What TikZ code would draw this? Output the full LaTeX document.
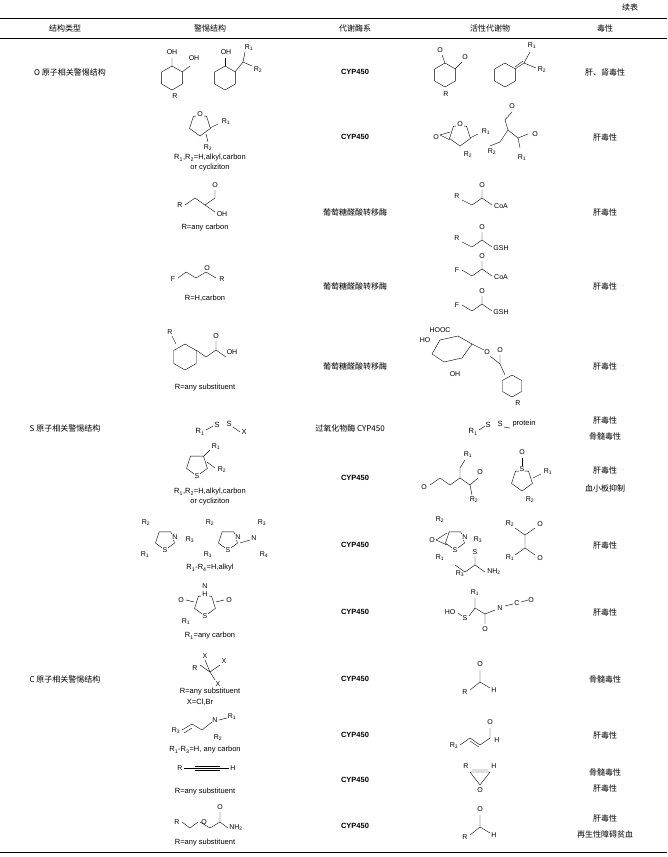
\documentclass[tikz,border=0pt]{standalone}
\usepackage{fontspec}
\setmainfont{Liberation Sans}
\newfontfamily\cjk{Noto Sans CJK SC}
\newcommand\hexg[3]{\draw[shift={(#1,#2)}] (30:#3)--(90:#3)--(150:#3)--(210:#3)--(270:#3)--(330:#3)--cycle;}
\newcommand\pentg[3]{\draw[shift={(#1,#2)}] (90:#3)--(162:#3)--(234:#3)--(306:#3)--(18:#3)--cycle;}
\newcommand\Rs[1]{R\textsubscript{#1}}
\begin{document}
\begin{tikzpicture}[x=1pt,y=-1pt,font=\fontsize{7.5}{9}\selectfont,
  ch/.style={font=\fontsize{7}{8}\selectfont,inner sep=1pt},
  cj/.style={font=\cjk\fontsize{8}{9}\selectfont},
  en/.style={font=\fontsize{7.5}{9}\selectfont\bfseries}]
\useasboundingbox (0,0) rectangle (667,857);
\node[cj] at (630,7) {续表};
\draw[line width=0.8pt] (0,18)--(667,18);
\draw[line width=0.5pt] (0,38)--(667,38);
\draw[line width=0.8pt] (0,852)--(667,852);
\foreach \xx/\lab in {65/结构类型,210/警惕结构,355/代谢酶系,490/活性代谢物,605/毒性}\node[cj] at (\xx,28) {\lab};
\node[cj] at (70,72) {O 原子相关警惕结构};
\node[cj] at (65,428) {S 原子相关警惕结构};
\node[cj] at (65,679) {C 原子相关警惕结构};
% enzymes
\foreach \yy in {72,137,478,545,612,679,735,780,826}\node[en] at (355,\yy) {CYP450};
\foreach \yy in {212,286,366}\node[cj] at (355,\yy) {葡萄糖醛酸转移酶};
\node[cj] at (350,428) {过氧化物酶 CYP450};
% toxicity
\node[cj] at (605,72) {肝、肾毒性};
\foreach \yy in {137,212,286,366,420,470,545,612,735,788,818}\node[cj] at (605,\yy) {肝毒性};
\foreach \yy in {436,679,772}\node[cj] at (605,\yy) {骨髓毒性};
\node[cj] at (605,488) {血小板抑制};
\node[cj] at (605,834) {再生性障碍贫血};
% row1
\hexg{172}{78}{12}\hexg{225}{78}{12}
\draw (172,66)--(172,58) (182,72)--(190,66);
\node[ch] at (172,52) {OH};\node[ch] at (194,58) {OH};
\draw (225,66)--(225,58);\node[ch] at (226,52) {OH};
\draw (235,72)--(243,62)--(252,66) (243,62)--(245,52);
\node[ch] at (249,48) {\Rs1};\node[ch] at (258,70) {\Rs2};
\node[ch] at (175,96) {R};
\hexg{445}{75}{12}\draw (445,63)--(442,55) (455,69)--(462,62);
\node[ch] at (440,50) {O};\node[ch] at (465,57) {O};\node[ch] at (446,94) {R};
\hexg{505}{75}{12}\draw (515,69)--(524,63) (515,67)--(523,61) (524,63)--(530,52) (524,63)--(536,68);
\node[ch] at (532,46) {\Rs1};\node[ch] at (542,70) {\Rs2};
% row2
\pentg{200}{125}{11}\node[ch,fill=white] at (200,114) {O};
\draw (210,128)--(218,124);\node[ch] at (226,122) {\Rs1};
\draw (206,134)--(208,142);\node[ch] at (208,148) {\Rs2};
\node at (210,158) {\Rs1,\Rs2=H,alkyl,carbon};\node at (210,168) {or cycliziton};
\pentg{460}{135}{11}\node[ch,fill=white] at (460,124) {O};
\draw (450,132)--(440,135)--(450,140);\node[ch] at (436,137) {O};
\draw (470,138)--(478,134);\node[ch] at (486,132) {\Rs1};\node[ch] at (468,155) {\Rs2};
\draw (512,112)--(505,120)--(508,130)--(500,142)--(490,146) (508,130)--(518,138)--(520,148) (518,138)--(528,134);
\node[ch] at (512,106) {O};\node[ch] at (535,134) {O};\node[ch] at (492,152) {\Rs2};\node[ch] at (522,158) {\Rs1};
% row3
\draw (185,205)--(195,198)--(205,205)--(215,198)--(215,190) (205,205)--(215,212);
\node[ch] at (180,205) {R};\node[ch] at (215,185) {O};\node[ch] at (222,214) {OH};
\node at (205,228) {R=any carbon};
\draw (462,200)--(472,205)--(482,198)--(482,190) (482,198)--(492,205);
\node[ch] at (457,196) {R};\node[ch] at (482,185) {O};\node[ch] at (501,206) {CoA};
\draw (462,242)--(472,247)--(482,240)--(482,232) (482,240)--(492,247);
\node[ch] at (457,238) {R};\node[ch] at (482,227) {O};\node[ch] at (501,248) {GSH};
% row4
\draw (178,278)--(186,272)--(196,278)--(206,272)--(216,278);
\node[ch] at (173,279) {F};\node[ch] at (207,268) {O};\node[ch] at (222,279) {R};
\node at (205,298) {R=H,carbon};
\draw (462,270)--(472,276)--(482,269)--(482,261) (482,269)--(492,276);
\node[ch] at (457,270) {F};\node[ch] at (482,256) {O};\node[ch] at (501,277) {CoA};
\draw (462,305)--(472,311)--(482,304)--(482,296) (482,304)--(492,311);
\node[ch] at (457,305) {F};\node[ch] at (482,291) {O};\node[ch] at (501,312) {GSH};
% row5
\hexg{185}{357}{13}\draw (196,350)--(206,357)--(216,350)--(216,341) (216,350)--(226,357);
\draw (176,344)--(172,336);\node[ch] at (170,332) {R};
\node[ch] at (216,336) {O};\node[ch] at (232,352) {OH};
\node at (205,388) {R=any substituent};
\draw (440,340)--(458,336)--(472,344)--(462,358)--(444,362)--(432,354)--cycle;
\node[ch] at (440,330) {HOOC};\node[ch] at (425,340) {HO};\node[ch] at (455,374) {OH};
\draw (472,344)--(484,350);\node[ch] at (487,352) {O};
\draw (490,356)--(500,364)--(500,355) (500,364)--(505,375);
\node[ch] at (500,350) {O};
\hexg{512}{386}{11}\node[ch] at (518,403) {R};
% row6
\node at (200,432) {\Rs1};\node at (217,425) {S};\node at (229,424) {S};
\draw (206,430)--(213,426) (233,427)--(240,432);\node at (244,432) {X};
\node at (473,432) {\Rs1};\node at (488,425) {S};\node at (500,424) {S};
\draw (479,430)--(485,426) (504,427)--(510,428);\node at (524,424) {protein};
% row7
\pentg{197}{465}{11}\node[ch,fill=white] at (197,476) {S};
\draw (204,456)--(210,450);\node[ch] at (216,447) {\Rs1};
\draw (207,462)--(215,468);\node[ch] at (222,470) {\Rs2};
\node at (210,492) {\Rs1,\Rs2=H,alkyl,carbon};\node at (210,502) {or cycliziton};
\draw (430,485)--(440,478)--(450,485)--(460,478)--(470,485)--(478,478) (460,478)--(460,468)--(465,460) (470,485)--(472,495);
\node[ch] at (424,487) {O};\node[ch] at (480,472) {O};\node[ch] at (468,455) {\Rs1};\node[ch] at (474,500) {\Rs2};
\pentg{522}{480}{11}\node[ch,fill=white] at (522,469) {S};\draw (522,466)--(522,458);\node[ch] at (522,452) {O};
\draw (533,478)--(541,474);\node[ch] at (548,472) {\Rs1};\node[ch] at (530,500) {\Rs2};
% row8
\pentg{165}{540}{10}\node[ch,fill=white] at (165,550) {S};\node[ch,fill=white] at (175,537) {N};
\node[ch] at (146,523) {\Rs2};\node[ch] at (145,555) {\Rs1};\node[ch] at (190,540) {\Rs3};
\pentg{228}{540}{10}\node[ch,fill=white] at (228,550) {S};\node[ch,fill=white] at (238,537) {N};
\draw (240,543)--(250,540);\node[ch] at (254,538) {N};\node[ch] at (262,523) {\Rs3};\node[ch] at (264,555) {\Rs4};
\node[ch] at (210,523) {\Rs2};\node[ch] at (208,555) {\Rs1};
\node at (210,568) {\Rs1-\Rs4=H,alkyl};
\pentg{455}{540}{10}\node[ch,fill=white] at (455,550) {S};\node[ch,fill=white] at (465,537) {N};
\draw (447,533)--(436,540)--(447,545);\node[ch] at (432,540) {O};
\node[ch] at (440,520) {\Rs2};\node[ch] at (440,558) {\Rs1};\node[ch] at (478,540) {\Rs3};
\draw (515,528)--(525,535)--(535,528) (525,535)--(525,548)--(515,555) (525,548)--(535,555);
\node[ch] at (510,524) {\Rs2};\node[ch] at (540,524) {O};\node[ch] at (510,558) {\Rs1};\node[ch] at (540,558) {O};
\draw (455,565)--(465,572)--(475,565)--(475,556) (475,565)--(485,572);
\node[ch] at (475,552) {S};\node[ch] at (460,574) {\Rs3};\node[ch] at (494,572) {NH\textsubscript2};
% row9
\pentg{205}{605}{11}\node[ch,fill=white] at (205,616) {S};\node[ch,fill=white] at (205,594) {H};
\node[ch] at (205,586) {N};
\draw (194,602)--(186,600);\node[ch] at (181,600) {O};\draw (216,602)--(224,600);\node[ch] at (229,600) {O};
\node[ch] at (186,622) {\Rs1};\node at (210,636) {\Rs1=any carbon};
\node[ch] at (450,612) {HO};\node[ch] at (465,618) {S};
\draw (458,613)--(462,616) (469,616)--(475,608)--(485,614)--(485,624) (475,608)--(475,598) (485,614)--(495,610);
\node[ch] at (475,593) {\Rs1};\node[ch] at (485,629) {O};\node[ch] at (500,608) {N};
\draw (505,606)--(513,604);\node[ch] at (517,603) {C};\draw (521,602)--(528,600);\node[ch] at (531,600) {O};
% row10
\draw (200,665)--(210,672) (210,672)--(220,665) (210,672)--(215,680) (210,672)--(205,660);
\node[ch] at (205,656) {X};\node[ch] at (224,661) {X};\node[ch] at (218,684) {X};\node[ch] at (195,668) {R};
\node at (210,692) {R=any substituent};\node at (200,702) {X=Cl,Br};
\draw (470,690)--(480,682)--(480,670) (480,682)--(490,688);
\node[ch] at (465,692) {R};\node[ch] at (480,664) {O};\node[ch] at (494,690) {H};
% row11
\draw (182,730)--(192,724)--(202,730)--(212,722) (184,733)--(192,728);
\node[ch] at (176,731) {\Rs3};\node[ch] at (215,720) {N};\node[ch] at (232,717) {\Rs1};\node[ch] at (218,738) {\Rs2};
\draw (219,720)--(227,718);
\node at (205,750) {\Rs1-\Rs3=H, any carbon};
\draw (460,745)--(470,738)--(480,745)--(490,738)--(490,728) (470,741)--(479,747);
\node[ch] at (454,746) {\Rs3};\node[ch] at (490,722) {O};\node[ch] at (497,740) {H};
% row12
\node[ch] at (180,768) {R};\draw (184,768)--(195,768);
\draw (195,766)--(220,766) (195,768)--(220,768) (195,770)--(220,770);
\draw (220,768)--(229,768);\node[ch] at (233,768) {H};
\node at (205,792) {R=any substituent};
\draw (470,772)--(490,772)--(480,785)--cycle (472,770)--(488,770);
\node[ch] at (466,766) {R};\node[ch] at (494,766) {H};\node[ch] at (480,790) {O};
% row13
\draw (182,822)--(190,828)--(198,822) (200,822)--(210,828)--(220,822)--(220,812) (220,822)--(228,828);
\node[ch] at (177,822) {R};\node[ch] at (204,822) {O};\node[ch] at (220,807) {O};\node[ch] at (236,828) {NH\textsubscript2};
\node at (205,843) {R=any substituent};
\draw (470,835)--(480,827)--(480,815) (480,827)--(490,833);
\node[ch] at (465,837) {R};\node[ch] at (480,809) {O};\node[ch] at (494,835) {H};
\end{tikzpicture}
\end{document}
